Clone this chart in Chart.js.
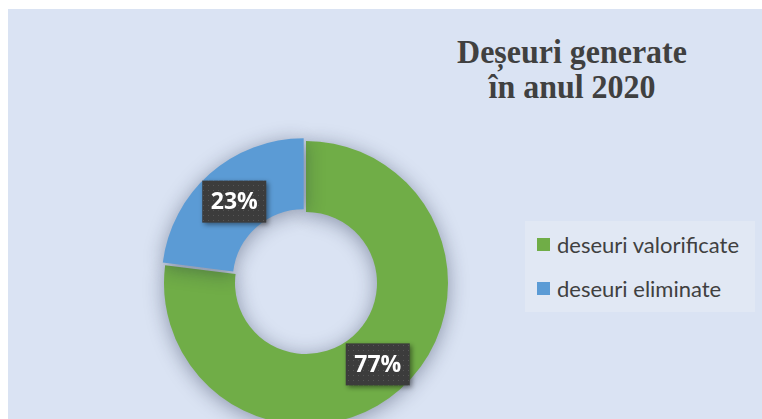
<!DOCTYPE html>
<html lang="ro">
<head>
  <meta charset="UTF-8">
  <title>Deseuri generate in anul 2020</title>
  <script src="https://cdn.jsdelivr.net/npm/chart.js"></script>
  <style>
    * { margin: 0; padding: 0; box-sizing: border-box; }
    body { width: 762px; height: 419px; overflow: hidden; background: #fff; position: relative; }

    /* chart area background */
    .panel {
      position: absolute; left: 8px; top: 9px; width: 754px; height: 410px;
      background: #dae3f3; overflow: hidden;
    }
    .title {
      position: absolute; left: 372px; top: 25px; width: 384px; text-align: center;
      font-family: "Liberation Serif", "Times New Roman", serif; font-weight: bold;
      font-size: 34px; line-height: 35px; color: #404040;
      transform: scaleX(0.94);
    }
    #donut { position: absolute; left: 98px; top: 74px; }

    .legend {
      position: absolute; left: 517px; top: 212px; width: 230px; height: 91px;
      background: #e1e8f4; padding-top: 1px;
    }
    .legend div {
      height: 44px; display: flex; align-items: center;
      font-family: Lato, "Open Sans", sans-serif; font-size: 22px; color: #404040;
      padding-left: 12px;
    }
    .legend span { width: 13px; height: 13px; margin-right: 7px; display: inline-block; }
  </style>
</head>
<body>
  <div class="panel">
    <div class="title">Deșeuri generate<br>în anul 2020</div>
    <canvas id="donut" width="400" height="400"></canvas>
    <div class="legend" id="legend"></div>
  </div>

  <script>
    // data
    const categories = ['deseuri valorificate', 'deseuri eliminate'];
    const shares = [77, 23];
    const colors = ['#70ad47', '#5b9bd5'];
    const offsets = [0, 14];

    // legend built from the same arrays
    const legend = document.getElementById('legend');
    categories.forEach((c, i) => {
      const row = document.createElement('div');
      row.innerHTML = '<span style="background:' + colors[i] + '"></span>' + c;
      legend.appendChild(row);
    });

    // dotted dark pattern for the data label boxes
    function makePattern(ctx) {
      const p = document.createElement('canvas');
      p.width = 5; p.height = 5;
      const pc = p.getContext('2d');
      pc.fillStyle = '#3c3c3c';
      pc.fillRect(0, 0, 5, 5);
      pc.fillStyle = '#555555';
      pc.fillRect(2, 2, 1, 1);
      return ctx.createPattern(p, 'repeat');
    }

    // soft shadow behind the ring
    const shadowPlugin = {
      id: 'ringShadow',
      beforeDatasetsDraw(chart) {
        const ctx = chart.ctx;
        ctx.save();
        ctx.shadowColor = 'rgba(20, 30, 60, 0.4)';
        ctx.shadowBlur = 20;
        ctx.shadowOffsetY = 3;
      },
      afterDatasetsDraw(chart) {
        chart.ctx.restore();
      }
    };

    // percentage labels in dark boxes
    const labelPlugin = {
      id: 'boxLabels',
      afterDraw(chart) {
        const ctx = chart.ctx;
        const meta = chart.getDatasetMeta(0);
        const data = chart.data.datasets[0].data;
        const total = data.reduce((a, b) => a + b, 0);
        const pattern = makePattern(ctx);
        meta.data.forEach((arc, i) => {
          const mid = (arc.startAngle + arc.endAngle) / 2;
          const r = (arc.innerRadius + arc.outerRadius) / 2 + 2;
          const x = arc.x + Math.cos(mid) * r;
          const y = arc.y + Math.sin(mid) * r;
          const w = 64, h = 42;
          ctx.save();
          ctx.shadowColor = 'rgba(0, 0, 0, 0.45)';
          ctx.shadowBlur = 5;
          ctx.shadowOffsetX = 2;
          ctx.shadowOffsetY = 2;
          ctx.fillStyle = pattern;
          ctx.fillRect(x - w / 2, y - h / 2, w, h);
          ctx.restore();
          ctx.save();
          ctx.fillStyle = '#ffffff';
          ctx.font = 'bold 23px "Open Sans", sans-serif';
          ctx.textAlign = 'center';
          ctx.textBaseline = 'middle';
          ctx.fillText(Math.round(data[i] / total * 100) + '%', x, y + 1);
          ctx.restore();
        });
      }
    };

    new Chart(document.getElementById('donut'), {
      type: 'doughnut',
      data: {
        labels: categories,
        datasets: [{
          data: shares,
          backgroundColor: colors,
          borderWidth: 0,
          offset: offsets
        }]
      },
      options: {
        responsive: false,
        animation: false,
        radius: 142,
        cutout: '50%',
        layout: { padding: 0 },
        plugins: {
          legend: { display: false },
          tooltip: { enabled: false }
        }
      },
      plugins: [shadowPlugin, labelPlugin]
    });
  </script>
</body>
</html>
